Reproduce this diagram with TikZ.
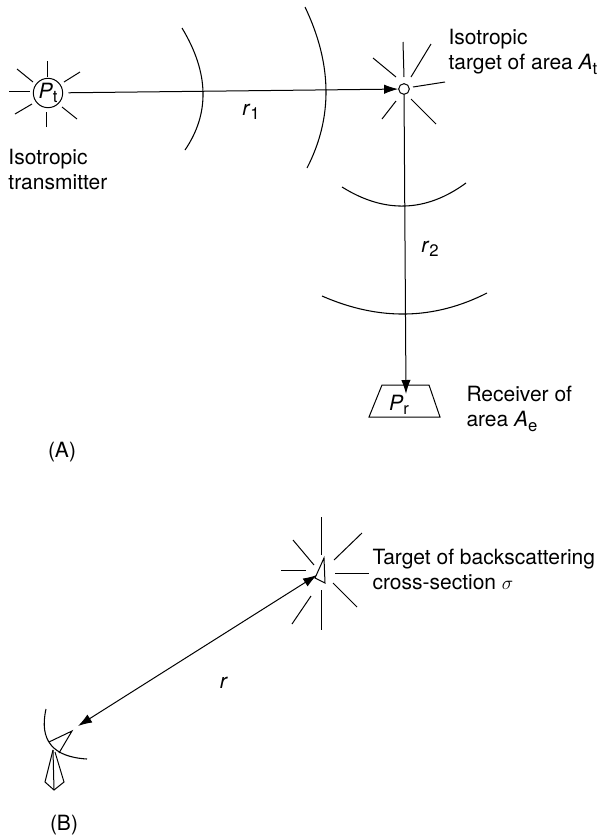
\documentclass[tikz,border=0pt]{standalone}
\usepackage{fontspec}
\setmainfont{TeX Gyre Heros}
\usetikzlibrary{arrows.meta}
\newcommand{\qty}[2]{\textit{#1}\raisebox{-3.2pt}{\fontsize{12.5}{14}\selectfont #2}}
\begin{document}
\begin{tikzpicture}[x=0.75pt, y=-0.75pt, line width=0.75pt,
  font=\fontsize{15.75}{18.75}\selectfont,
  lbl/.style={anchor=north west, inner sep=0pt, align=left},
  sym/.style={inner sep=0pt},
  ray/.style={line width=0.75pt},
  wave/.style={line width=0.8pt},
  tip/.style={-{Latex[length=10.5pt,width=7pt]}},
  both tip/.style={{Latex[length=10.5pt,width=7pt]}-{Latex[length=10.5pt,width=7pt]}}]

\useasboundingbox (0,0) rectangle (602,836);

%% ------------------------------------------------------------------
%% (A) transmitter, isotropic target, receiver
%% ------------------------------------------------------------------
\node[circle, draw, inner sep=0pt, minimum size=22pt] (txA) at (48,93) {\qty{P}{t}};
\node[circle, draw, inner sep=0pt, minimum size=8pt] (tgtA) at (404,89) {};
\coordinate (rxtip) at (406,394);

% rays round the transmitter
\foreach \xa/\ya/\xb/\yb in {47/61/47/77, 17/69/33/82, 80/72/64/82, 9/91/30/91,
    15/114/32/104, 46/127/46/112, 77/119/62/107}{
  \draw[ray] (\xa,\ya) -- (\xb,\yb);
}

% rays round the target
\foreach \xa/\ya/\xb/\yb in {403/42/404/77, 431/44/411/77, 373/58/396/77, 445/82/413/87,
    396/101/382/119, 411/99/436/124}{
  \draw[ray] (\xa,\ya) -- (\xb,\yb);
}

% wave fronts
\draw[wave] (182,28) .. controls (209,72.7) and (210,113.3) .. (185,150);
\draw[wave] (305,7) .. controls (332.3,64) and (333,117.7) .. (307,168);
\draw[wave] (342,187) .. controls (384.7,213.7) and (426,212.3) .. (466,183);
\draw[wave] (322,296) .. controls (379,321) and (434,320) .. (487,293);

% the two paths
\draw[tip, shorten <=4pt] (txA) -- (tgtA);
\draw[tip] (tgtA) -- (rxtip);

% receiver
\draw[ray] (382,385) -- (429,385) -- (440,417) -- (369,417) -- cycle;
\node[sym] (prA) at (399,405) {\qty{P}{r}};

\node[sym] (r1) at (251,112) {\qty{r}{1}};
\node[sym] (r2) at (430,249) {\qty{r}{2}};

\node[lbl] (txlbl) at (8,149) {Isotropic\\transmitter};
\node[lbl] (tgtlbl) at (448,29) {Isotropic\\target of area \qty{A}{t}};
\node[lbl] (rxlbl) at (466,386) {Receiver of\\area \qty{A}{e}};
\node[sym] (capA) at (62,452) {(A)};

%% ------------------------------------------------------------------
%% (B) radar and backscattering target
%% ------------------------------------------------------------------
\coordinate (tgtB) at (317,575);
\coordinate (radar) at (78,726);

% rays round the target
\foreach \xa/\ya/\xb/\yb in {321/517/321/555, 362/533/334/560, 293/540/314/565, 281/570/306/570,
    335/573/369/573, 333/583/357/607, 311/596/292/624, 321/590/321/630}{
  \draw[ray] (\xa,\ya) -- (\xb,\yb);
}

% corner reflector
\draw[ray] (324,558) -- (325,583) -- (315,578) -- cycle;

\draw[both tip] (radar) -- (tgtB);

% dish, feed and pedestal
\draw[wave] (46,709) .. controls (39,740.3) and (52.7,757) .. (87,759);
\draw[ray] (49,742) -- (72,731) -- (59,753);
\draw[ray] (53,750) -- (45,782) -- (54,790) -- (64,782) -- (55,752);
\draw[ray] (53,750) -- (54,790);

\node[sym] (rB) at (224,683) {\textit{r}};
\node[lbl] (tgtBlbl) at (372,549) {Target of backscattering\\cross-section $\sigma$};
\node[sym] (capB) at (64,825) {(B)};

\end{tikzpicture}
\end{document}
